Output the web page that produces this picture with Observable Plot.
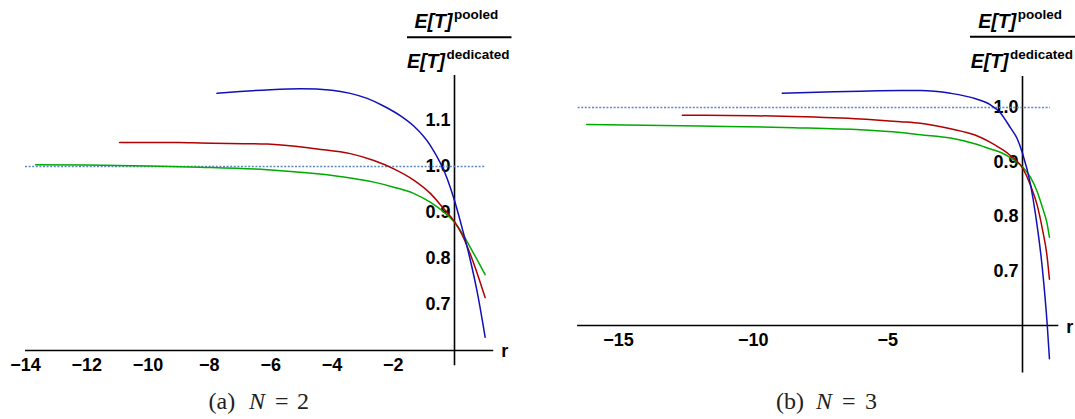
<!DOCTYPE html>
<html><head><meta charset="utf-8">
<script src="https://cdn.jsdelivr.net/npm/d3@7"></script>
<script src="https://cdn.jsdelivr.net/npm/@observablehq/plot@0.6"></script>
<style>
body{margin:0;background:#fff;}
#wrap{position:relative;width:1075px;height:419px;overflow:hidden;background:#fff;}
#wrap svg{position:absolute;top:0;}
</style></head><body><div id="wrap"></div>
<script>
// ---------- Panel (a): N = 2 ----------
const rA_blue  = [-7.75, -7, -6, -5, -4, -3.4, -2.85, -2.3, -1.76, -1.33, -0.78, -0.24, 0, 0.25, 0.5, 0.75, 1];
const vA_blue  = [1.159, 1.163, 1.167, 1.169, 1.166, 1.159, 1.148, 1.131, 1.110, 1.088, 1.045, 0.974, 0.926, 0.866, 0.801, 0.724, 0.629];
const rA_red   = [-10.93, -9, -8.29, -6.11, -4.48, -3.4, -2.63, -1.98, -1.32, -0.78, -0.35, 0, 0.25, 0.5, 0.75, 1];
const vA_red   = [1.052, 1.052, 1.051, 1.049, 1.038, 1.028, 1.013, 0.995, 0.970, 0.941, 0.908, 0.880, 0.851, 0.812, 0.766, 0.715];
const rA_green = [-13.67, -12, -10, -8.29, -6.11, -4.48, -3.4, -2.63, -1.98, -1.32, -0.78, -0.35, 0, 0.25, 0.5, 0.75, 1];
const vA_green = [1.004, 1.003, 1.001, 0.9985, 0.993, 0.984, 0.975, 0.966, 0.955, 0.941, 0.922, 0.901, 0.879, 0.855, 0.826, 0.796, 0.765];
const xTicksA = [-14, -12, -10, -8, -6, -4, -2];
const yTicksA = [0.7, 0.8, 0.9, 1.0, 1.1];
const captionA = ["(a)", "N", "=", "2"];

// ---------- Panel (b): N = 3 ----------
const rB_blue  = [-8.92, -7, -6, -4.53, -3.79, -2.67, -1.74, -1.19, -0.82, -0.45, -0.2, 0, 0.3, 0.48, 0.73, 0.92, 1];
const vB_blue  = [1.026, 1.029, 1.030, 1.031, 1.031, 1.026, 1.016, 1.005, 0.990, 0.963, 0.943, 0.916, 0.858, 0.805, 0.708, 0.600, 0.539];
const rB_red   = [-12.63, -10, -8.49, -6, -4.53, -3.79, -2.67, -1.74, -1.19, -0.82, -0.45, 0, 0.3, 0.55, 0.75, 0.9, 1];
const vB_red   = [0.986, 0.985, 0.9835, 0.979, 0.974, 0.971, 0.961, 0.949, 0.936, 0.925, 0.912, 0.889, 0.857, 0.820, 0.774, 0.732, 0.685];
const rB_green = [-16.18, -12, -8.49, -6, -4.53, -3.79, -2.67, -1.74, -1.19, -0.82, -0.45, 0, 0.3, 0.55, 0.75, 0.9, 1];
const vB_green = [0.969, 0.966, 0.963, 0.959, 0.954, 0.950, 0.944, 0.933, 0.924, 0.918, 0.908, 0.891, 0.872, 0.845, 0.815, 0.790, 0.762];
const xTicksB = [-15, -10, -5];
const yTicksB = [0.7, 0.8, 0.9, 1.0];
const captionB = ["(b)", "N", "=", "3"];

const refLevel = 1.0;
const axisLabel = "r";
const fracNum = ["E[T]", "pooled"];
const fracDen = ["E[T]", "dedicated"];

const COLORS = {blue: "#1010b8", red: "#b00000", green: "#00aa00", ref: "#5b86c6"};
const SANS = "'Liberation Sans', Arial, sans-serif";
const SERIF = "'Liberation Serif', 'Times New Roman', serif";

const series = (rs, vs) => rs.map((r, i) => ({r, v: vs[i]}));

function panel(o) {
  const tickStyle = {fontSize: 18, fontWeight: "bold", fontFamily: SANS, fill: "black"};
  const marks = [
    Plot.text(o.yTicks, {x: () => 0, y: d => d, text: d => d.toFixed(1), textAnchor: "end", lineAnchor: "middle", dx: -4, ...tickStyle}),
    Plot.text(o.xTicks, {x: d => d, y: () => o.hAxis.y, text: d => "\u2212" + Math.abs(d), textAnchor: "middle", lineAnchor: "top", dy: 8, ...tickStyle}),
    Plot.ruleY([o.hAxis], {y: "y", x1: "x1", x2: "x2", stroke: "black", strokeWidth: 1.6}),
    Plot.ruleX([o.vAxis], {x: "x", y1: "y1", y2: "y2", stroke: "black", strokeWidth: 1.6}),
    Plot.text([o.hAxis], {x: "x2", y: "y", text: () => axisLabel, dx: 11, dy: o.rDy, textAnchor: "middle", lineAnchor: "bottom", ...tickStyle}),
    Plot.ruleY([o.ref], {y: "y", x1: "x1", x2: "x2", stroke: COLORS.ref, strokeWidth: 1.3, strokeDasharray: "2,1.6"}),
    ...o.curves.map(c => Plot.line(c.data, {x: "r", y: "v", stroke: c.color, strokeWidth: 1.5, curve: "monotone-x"}))
  ];
  return Plot.plot({
    width: o.width, height: 419, margin: 0,
    x: {domain: o.xDomain, range: o.xRange, axis: null},
    y: {domain: o.yDomain, range: o.yRange, axis: null},
    style: {background: "transparent", overflow: "visible", fontFamily: SANS},
    marks
  });
}

function fracLine(g, x, y, parts, supDy) {
  const t = g.append("text").attr("x", x).attr("y", y).attr("text-anchor", "start")
    .style("font-family", SANS).style("font-weight", "bold");
  t.append("tspan").style("font-size", "19.5px").style("font-style", "italic").text(parts[0]);
  t.append("tspan").attr("dx", 1.5).attr("dy", supDy).style("font-size", "13.5px").text(parts[1]);
}

function annotate(svg, a, caption) {
  const s = d3.select(svg);
  const g = s.append("g").attr("fill", "black").attr("text-anchor", "start");
  fracLine(g, a.numX, 28.3, fracNum, -9.8);
  g.append("line").attr("x1", a.lx1).attr("x2", a.lx2).attr("y1", a.ly).attr("y2", a.ly).attr("stroke", "black").attr("stroke-width", 2);
  fracLine(g, a.denX, 67.5, fracDen, -8.5);
  const c = s.append("g").attr("fill", "#222").attr("text-anchor", "start")
    .style("font-family", SERIF).style("font-size", "24px");
  c.append("text").attr("x", a.capX[0]).attr("y", 409).text(caption[0]);
  c.append("text").attr("x", a.capX[1]).attr("y", 409).style("font-style", "italic").text(caption[1]);
  c.append("text").attr("x", a.capX[2]).attr("y", 409).text(caption[2]);
  c.append("text").attr("x", a.capX[3]).attr("y", 409).text(caption[3]);
}

const wrap = document.getElementById("wrap");

const svgA = panel({
  width: 540,
  xDomain: [-14, 0], xRange: [25, 454],
  yDomain: [0.6, 1.2], yRange: [350, 74],
  hAxis: {y: 0.6, x1: -14, x2: 1.28},
  vAxis: {x: 0, y1: 0.567, y2: 1.198},
  ref: {y: refLevel, x1: -14, x2: 1.04},
  xTicks: xTicksA, yTicks: yTicksA, rDy: 6,
  curves: [
    {data: series(rA_green, vA_green), color: COLORS.green},
    {data: series(rA_red, vA_red), color: COLORS.red},
    {data: series(rA_blue, vA_blue), color: COLORS.blue}
  ]
});
svgA.style.left = "0px";
wrap.appendChild(svgA);
annotate(svgA, {numX: 414.6, lx1: 407, lx2: 511.5, ly: 37.3, denX: 407, capX: [208.6, 249, 275, 297]}, captionA);

const OFF = 540;
const svgB = panel({
  width: 535,
  xDomain: [-15, 0], xRange: [618 - OFF, 1022 - OFF],
  yDomain: [0.6, 1.0], yRange: [325, 107],
  hAxis: {y: 0.6, x1: -16.52, x2: 1.348},
  vAxis: {x: 0, y1: 0.513, y2: 1.057},
  ref: {y: refLevel, x1: -16.5, x2: 1.04},
  xTicks: xTicksB, yTicks: yTicksB, rDy: 7,
  curves: [
    {data: series(rB_green, vB_green), color: COLORS.green},
    {data: series(rB_red, vB_red), color: COLORS.red},
    {data: series(rB_blue, vB_blue), color: COLORS.blue}
  ]
});
svgB.style.left = OFF + "px";
wrap.appendChild(svgB);
annotate(svgB, {numX: 978.3 - OFF, lx1: 970 - OFF, lx2: 1076 - OFF, ly: 36.7, denX: 970.7 - OFF, capX: [776 - OFF, 816 - OFF, 842 - OFF, 865 - OFF]}, captionB);
</script>
</body></html>
